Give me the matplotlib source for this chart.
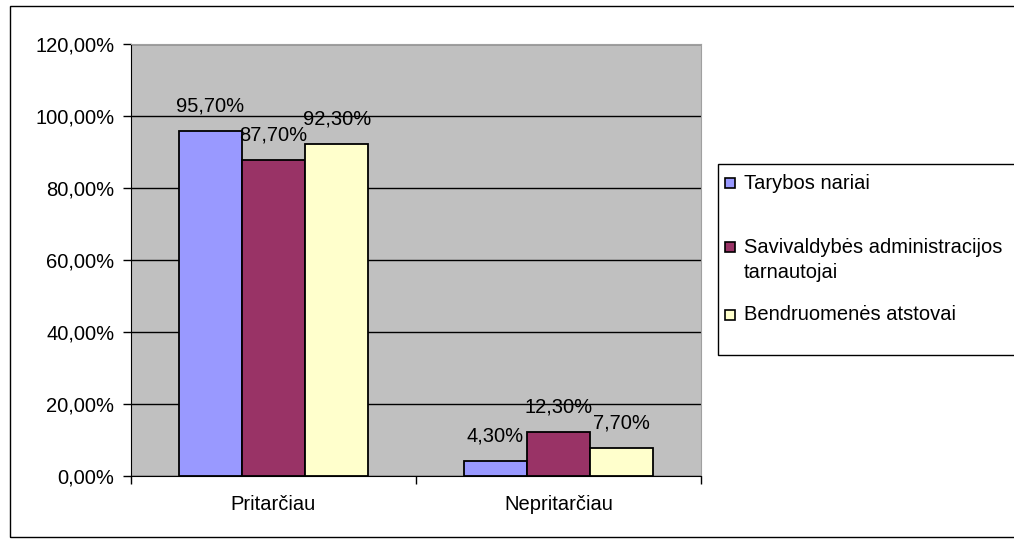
import matplotlib.pyplot as plt
import numpy as np
from matplotlib.patches import Rectangle

plt.rcParams['font.family'] = ['Liberation Sans', 'DejaVu Sans']

# duomenys
categories = ['Pritarčiau', 'Nepritarčiau']
series = ['Tarybos nariai', 'Savivaldybės administracijos\ntarnautojai', 'Bendruomenės atstovai']
tarybos = [95.7, 4.3]
administracija = [87.7, 12.3]
bendruomene = [92.3, 7.7]
colors = ['#9999FF', '#993366', '#FFFFCC']

W, H = 1014, 541
FS = 14.5
fig = plt.figure(figsize=(W / 100, H / 100), dpi=100)
ax = fig.add_axes([131 / W, 1 - 476 / H, 570 / W, 432 / H])
ax.set_facecolor('#C0C0C0')

x = np.arange(len(categories))
bw = 0.222
fmt = lambda v: f'{v:.2f}'.replace('.', ',') + '%'
for i, (vals, c) in enumerate(zip([tarybos, administracija, bendruomene], colors)):
    bars = ax.bar(x + (i - 1) * bw, vals, bw, color=c, edgecolor='black', linewidth=1.3, zorder=3)
    for b, v in zip(bars, vals):
        ax.annotate(fmt(v), (b.get_x() + b.get_width() / 2, v), xytext=(0, 18),
                    textcoords='offset points', ha='center', va='center', fontsize=FS, zorder=4)

ax.set_xlim(-0.5, 1.5)
ax.set_ylim(0, 120)
ax.set_yticks(np.arange(0, 121, 20))
ax.set_yticklabels([f'{v},00%' for v in range(0, 121, 20)], fontsize=FS)
ax.yaxis.grid(True, color='black', linewidth=1, zorder=0)
ax.set_axisbelow(True)

ax.set_xticks([-0.5, 0.5, 1.5])
ax.set_xticklabels([])
ax.set_xticks(x, minor=True)
ax.set_xticklabels(categories, minor=True, fontsize=FS)
ax.tick_params(axis='x', which='minor', length=0, pad=14)
ax.tick_params(axis='x', which='major', length=6, width=1)
ax.tick_params(axis='y', length=6, width=1, pad=6)

for s in ['top', 'right']:
    ax.spines[s].set_color('#A0A0A0')
for s in ['left', 'bottom']:
    ax.spines[s].set_color('black')

# išorinis rėmelis
fig.patches.append(Rectangle((10 / W, 1 - 537 / H), 1.0, (537 - 6) / H, transform=fig.transFigure,
                             fill=False, edgecolor='black', linewidth=1))

# legenda
fig.patches.append(Rectangle((718 / W, 1 - 355 / H), 0.5, 191 / H, transform=fig.transFigure,
                             facecolor='white', edgecolor='black', linewidth=1))
handle_y = [183, 247, 315]
text_y = [183, 260, 315]
for hy, ty, lab, c in zip(handle_y, text_y, series, colors):
    fig.patches.append(Rectangle((725 / W, 1 - (hy + 5) / H), 10 / W, 10 / H, transform=fig.transFigure,
                                 facecolor=c, edgecolor='black', linewidth=1.2))
    fig.text(744 / W, 1 - ty / H, lab, ha='left', va='center', fontsize=FS, linespacing=1.45)

plt.savefig('out.png', dpi=100)
